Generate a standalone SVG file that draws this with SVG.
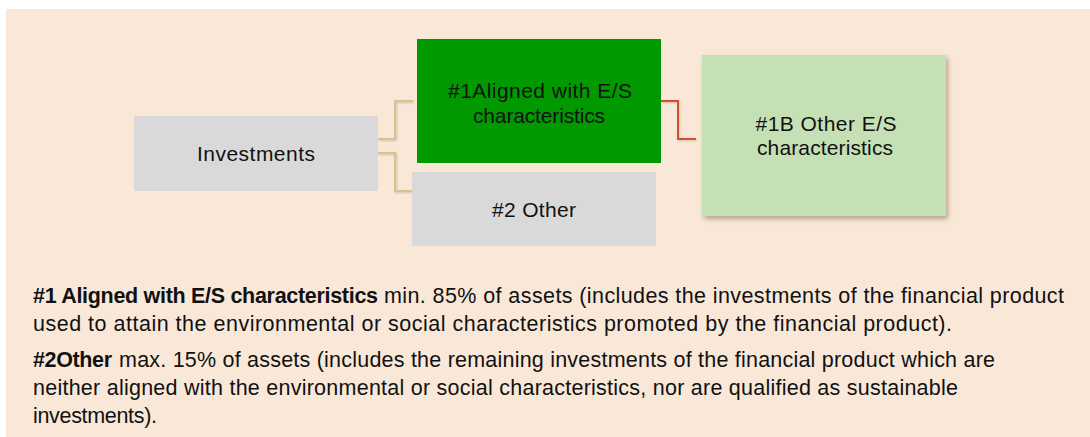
<svg xmlns="http://www.w3.org/2000/svg" width="1090" height="437" viewBox="0 0 1090 437">
<defs>
<style>
.t{font-family:"Liberation Sans",Arial,sans-serif;fill:#111;}
.box{font-size:21px;text-anchor:middle;}
.body{font-size:21.5px;}
.b{font-weight:bold;}
.tan{fill:none;stroke:#d4c48d;stroke-width:2;}
.red{fill:none;stroke:#d4502e;stroke-width:2;}
</style>
<filter id="sh" x="-10%" y="-10%" width="125%" height="130%">
<feDropShadow dx="2" dy="3" stdDeviation="2.5" flood-color="#6b4a30" flood-opacity="0.45"/>
</filter>
<filter id="lsh" x="-10%" y="-10%" width="130%" height="130%">
<feDropShadow dx="1" dy="1" stdDeviation="0.8" flood-color="#8a6a40" flood-opacity="0.35"/>
</filter>
</defs>
<rect x="6" y="9" width="1084" height="428" fill="#f9e8d8"/>
<g id="connectors">
<path class="tan" filter="url(#lsh)" d="M378,139 H395 V101 H413"/>
<path class="tan" filter="url(#lsh)" d="M378,153 H395 V191 H412"/>
<path class="red" filter="url(#lsh)" d="M661,101 H678 V139 H696"/>
</g>
<g id="investments">
<rect x="134" y="116" width="244" height="75" fill="#d9d9d9"/>
<text class="t box" x="256" y="161" textLength="118">Investments</text>
</g>
<g id="aligned">
<rect x="417" y="39" width="244" height="124" fill="#009900"/>
<text class="t box" x="540" y="98" textLength="184">#1Aligned with E/S</text>
<text class="t box" x="539" y="122.5" textLength="132">characteristics</text>
</g>
<g id="other2">
<rect x="412" y="172" width="244" height="74" fill="#d9d9d9"/>
<text class="t box" x="534" y="216.5" textLength="84">#2 Other</text>
</g>
<g id="other1b">
<rect x="702" y="55" width="244" height="161" fill="#c5e0b4" filter="url(#sh)"/>
<text class="t box" x="826" y="130.5" textLength="141">#1B Other E/S</text>
<text class="t box" x="825" y="155" textLength="136">characteristics</text>
</g>
<g id="legend">
<text class="t body b" x="33" y="302.5" textLength="345">#1 Aligned with E/S characteristics</text>
<text class="t body" x="384" y="302.5" textLength="680">min. 85% of assets (includes the investments of the financial product</text>
<text class="t body" x="33" y="331" textLength="919">used to attain the environmental or social characteristics promoted by the financial product).</text>
<text class="t body b" x="33" y="367" textLength="79">#2Other</text>
<text class="t body" x="119" y="367" textLength="876">max. 15% of assets (includes the remaining investments of the financial product which are</text>
<text class="t body" x="33" y="395" textLength="925">neither aligned with the environmental or social characteristics, nor are qualified as sustainable</text>
<text class="t body" x="33" y="423" textLength="124">investments).</text>
</g>
</svg>
